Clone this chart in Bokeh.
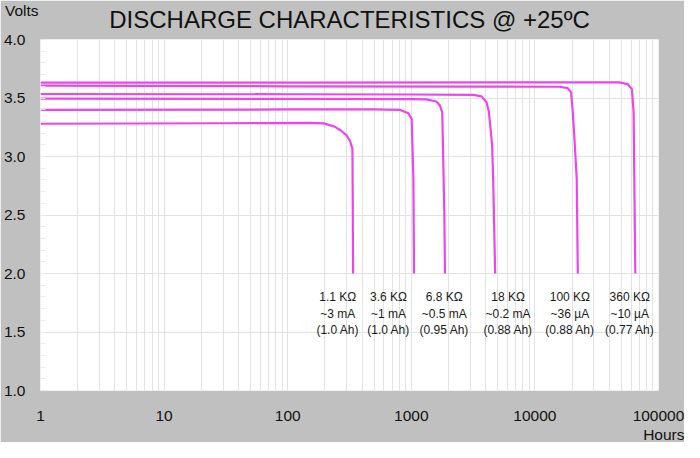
from bokeh.plotting import figure
from bokeh.models import FixedTicker, NumeralTickFormatter, Range1d, Title, Div
from bokeh.layouts import column
from bokeh.core.properties import value
from bokeh.embed import file_html
from bokeh.resources import INLINE

# ---- data ----
h_11k = [1, 30, 150, 196, 240, 269, 300, 320, 334, 336, 338]
v_11k = [3.280, 3.284, 3.287, 3.283, 3.255, 3.222, 3.18, 3.13, 3.065, 2.6, 2.0]

h_36k = [1, 100, 500, 812, 948, 1007, 1040, 1052]
v_36k = [3.398, 3.402, 3.402, 3.398, 3.37, 3.32, 2.81, 2.0]

h_68k = [1, 100, 1000, 1324, 1593, 1706, 1780, 1850, 1872]
v_68k = [3.494, 3.492, 3.490, 3.488, 3.47, 3.435, 3.378, 2.525, 2.0]

h_18k = [1, 100, 1000, 3170, 3700, 4060, 4245, 4510, 4595, 4770]
v_18k = [3.534, 3.532, 3.530, 3.527, 3.514, 3.463, 3.38, 3.094, 2.81, 2.0]

h_100k = [1, 100, 5000, 15800, 18450, 19630, 20260, 20900, 21800, 22240]
v_100k = [3.605, 3.600, 3.598, 3.596, 3.585, 3.548, 3.378, 3.15, 2.81, 2.0]

h_360k = [1, 100, 10000, 48200, 56200, 60900, 62900, 64900]
v_360k = [3.631, 3.632, 3.633, 3.633, 3.619, 3.576, 3.378, 2.0]

label_resist = ["1.1 K\u03a9", "3.6 K\u03a9", "6.8 K\u03a9", "18 K\u03a9", "100 K\u03a9", "360 K\u03a9"]
label_current = ["~3 mA", "~1 mA", "~0.5 mA", "~0.2 mA", "~36 \u00b5A", "~10 \u00b5A"]
label_capacity = ["(1.0 Ah)", "(1.0 Ah)", "(0.95 Ah)", "(0.88 Ah)", "(0.88 Ah)", "(0.77 Ah)"]
label_hours = [254, 655, 1849, 6070, 19190, 58500]
label_rows_v = [1.795, 1.653, 1.517]

x_ticks = [1, 10, 100, 1000, 10000, 100000]
y_ticks = [1.0, 1.5, 2.0, 2.5, 3.0, 3.5, 4.0]

TITLE = "DISCHARGE CHARACTERISTICS @ +25\u00baC"
Y_UNIT = "Volts"
X_UNIT = "Hours"
FONT = "Liberation Sans"
GRAY = "#C0C0C0"
MAGENTA = "#EE44EE"

fig = figure(width=684, height=442, x_axis_type="log",
             x_range=Range1d(1, 100000), y_range=Range1d(1.0, 4.0),
             output_backend="svg", toolbar_location=None,
             min_border_left=38, min_border_right=26,
             min_border_top=39, min_border_bottom=51)

fig.background_fill_color = "white"
fig.border_fill_color = GRAY
fig.outline_line_color = None

fig.title.text = TITLE
fig.title.align = "center"
fig.title.vertical_align = "top"
fig.title.text_font = FONT
fig.title.text_font_size = "24px"
fig.title.text_font_style = "normal"
fig.title.text_color = "#111111"
fig.title.standoff = 10

minor_x = [m * 10 ** d for d in range(0, 5) for m in range(2, 10)]
fig.xaxis.ticker = FixedTicker(ticks=x_ticks, minor_ticks=minor_x)
fig.xaxis.formatter = NumeralTickFormatter(format="0")
fig.yaxis.ticker = FixedTicker(ticks=y_ticks,
                               minor_ticks=[round(1.0 + 0.1 * i, 1) for i in range(31)])
fig.yaxis.formatter = NumeralTickFormatter(format="0.0")

for ax in (fig.xaxis, fig.yaxis):
    ax.axis_line_color = None
    ax.major_tick_line_color = None
    ax.major_tick_out = 0
    ax.major_tick_in = 0
    ax.minor_tick_out = 0
    ax.major_label_text_font = FONT
    ax.major_label_text_font_size = "15.5px"
    ax.major_label_text_color = "#111111"
fig.xaxis.minor_tick_line_color = None
fig.yaxis.minor_tick_in = 5
fig.yaxis.minor_tick_line_color = "#EAEAEA"
fig.xaxis.major_label_standoff = 20
fig.yaxis.major_label_standoff = 15

fig.xgrid.grid_line_color = "#E2E2E2"
fig.xgrid.minor_grid_line_color = "#E2E2E2"
fig.ygrid.grid_line_color = "#E2E2E2"

for hs, vs in [(h_11k, v_11k), (h_36k, v_36k), (h_68k, v_68k),
               (h_18k, v_18k), (h_100k, v_100k), (h_360k, v_360k)]:
    fig.line(hs, vs, line_color=MAGENTA, line_width=2.2)

for row_text, yv in zip([label_resist, label_current, label_capacity], label_rows_v):
    fig.text(x=label_hours, y=[yv] * len(label_hours), text=row_text,
             text_align="center", text_baseline="middle",
             text_font=value(FONT), text_font_size="12px", text_color="#1a1a1a")

# "Hours" unit label below the x tick labels, flush with the right edge
hours_title = Title(text=X_UNIT, align="right", offset=-26, standoff=0,
                    text_font=FONT, text_font_size="15.5px", text_line_height=1.0,
                    text_font_style="normal", text_color="#111111")
fig.add_layout(hours_title, "below")

# "Volts" unit label over the top-left corner (outside the plot frame)
volts = Div(text=Y_UNIT, styles={
    "position": "absolute", "left": "5px", "top": "2px", "z-index": "10",
    "font-family": FONT, "font-size": "15.5px", "line-height": "17px",
    "color": "#111111", "margin": "0", "padding": "0", "white-space": "nowrap"})

p = column(fig, volts, spacing=0)

open("out.html", "w").write(file_html(p, INLINE))
